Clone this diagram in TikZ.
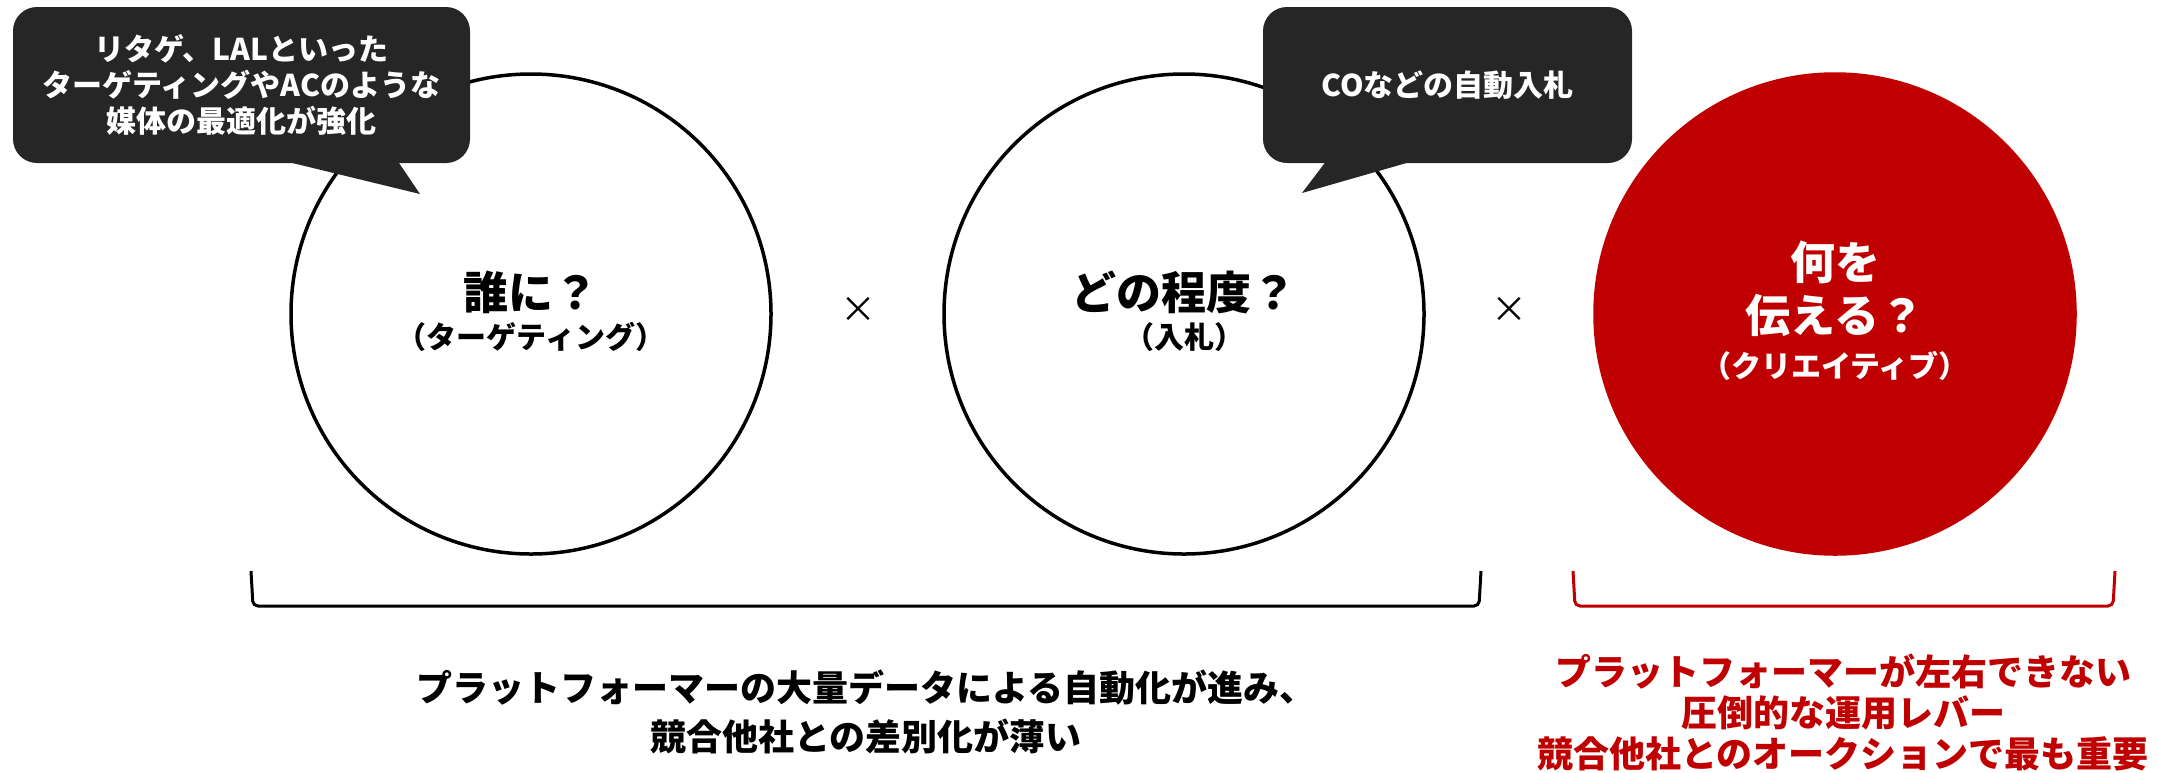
\documentclass[tikz,border=0pt]{standalone}
\usepackage{fontspec}
\setmainfont{Noto Sans CJK JP}
\usepackage{tikz}
\definecolor{bubblegray}{HTML}{262626}
\definecolor{leverred}{HTML}{C00000}

\begin{document}
\begin{tikzpicture}[x = 1pt, y = -1pt,
  ring/.style = {circle, draw, line width = 3.5pt, minimum size = 480pt, inner sep = 0pt},
  bubble/.style = {rectangle, rounded corners = 24pt, fill = bubblegray, text = white, align = center, inner sep = 0pt, font = \bfseries\fontsize{30}{36}\selectfont},
  qbig/.style = {inner sep = 0pt, font = \bfseries\fontsize{45}{52}\selectfont},
  qsmall/.style = {inner sep = 0pt, font = \bfseries\fontsize{30}{34}\selectfont},
  bottomtxt/.style = {inner sep = 0pt, align = center, font = \bfseries\fontsize{36}{49}\selectfont},
  groupline/.style = {line width = 3pt, rounded corners = 5pt}]
\useasboundingbox (0,0) rectangle (2159,772);
\node[ring] (who) at (531,314) {};
\node[ring] (howmuch) at (1184,314) {};
\node[ring, draw = leverred, fill = leverred] (what) at (1835,314) {};
\node[qbig] (whoq) at (531,292) {誰に？};
\node[qsmall] (whosub) at (531,337) {（ターゲティング）};
\node[qbig] (howmuchq) at (1184,292) {どの程度？};
\node[qsmall] (howmuchsub) at (1184,337) {（入札）};
\node[qbig, text = white] (whatq1) at (1835,262) {何を};
\node[qbig, text = white] (whatq2) at (1835,315) {伝える？};
\node[qsmall, text = white] (whatsub) at (1835,366) {（クリエイティブ）};
\node[font = \fontsize{36}{36}\selectfont] (times1) at (858,310) {×};
\node[font = \fontsize{36}{36}\selectfont] (times2) at (1509,310) {×};
\node[bubble, minimum width = 457pt, minimum height = 156pt] (tip1) at (241.5,85) {リタゲ、LALといった\\ターゲティングやACのような\\媒体の最適化が強化};
\fill[bubblegray] (280,160) -- (397,160) -- (420,194) -- cycle;
\node[bubble, minimum width = 369pt, minimum height = 156pt] (tip2) at (1447.5,85) {COなどの自動入札};
\fill[bubblegray] (1327,160) -- (1417,160) -- (1302,193) -- cycle;
\draw[groupline] (251,571) -- (253,606) -- (1479,606) -- (1481,571);
\draw[groupline, leverred] (1573,571) -- (1575,606) -- (2113,606) -- (2115,571);
\node[bottomtxt] (commodity) at (866,712) {プラットフォーマーの大量データによる自動化が進み、\\競合他社との差別化が薄い};
\node[bottomtxt, text = leverred, font = \bfseries\fontsize{36}{41}\selectfont] (lever) at (1843,712) {プラットフォーマーが左右できない\\圧倒的な運用レバー\\競合他社とのオークションで最も重要};
\end{tikzpicture}
\end{document}
